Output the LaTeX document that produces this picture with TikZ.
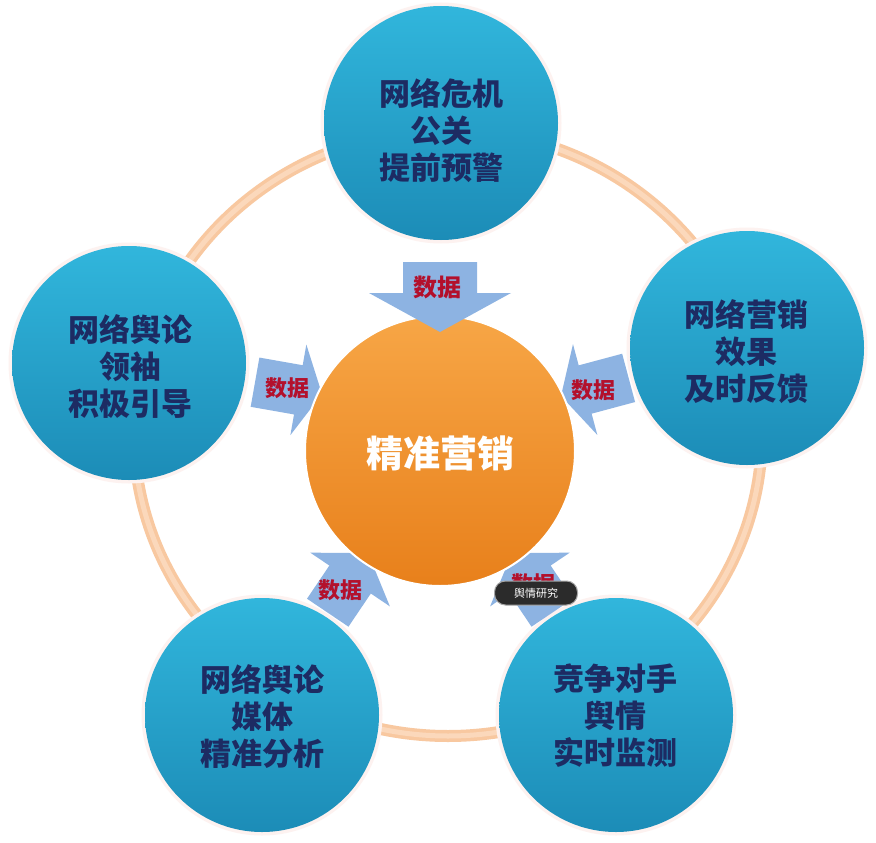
\documentclass[tikz,border=0pt]{standalone}
\usepackage{fontspec}
\newfontfamily\cjk{Noto Sans CJK SC}
\definecolor{blueTop}{HTML}{31B6DC}
\definecolor{blueBot}{HTML}{1C8CB7}
\definecolor{navy}{HTML}{1D2B63}
\definecolor{orangeTop}{HTML}{F7A646}
\definecolor{orangeBot}{HTML}{E8801B}
\definecolor{ringC}{HTML}{F8C8A0}
\definecolor{ringL}{HTML}{FBD8BB}
\definecolor{arrowC}{HTML}{8DB3E2}
\definecolor{dataRed}{HTML}{B3102C}
\definecolor{haloC}{HTML}{FDF2F0}
\definecolor{wmC}{HTML}{2B2B2B}
\newcommand\dataarrow[7]{%
  \fill[arrowC, shift={(#1,#2)}, rotate=#3]
    (0,0) -- (-#5,#6) -- (-#5,#7) -- (-#4,#7) -- (-#4,-#7) -- (-#5,-#7) -- (-#5,-#6) -- cycle;}
\begin{document}
\begin{tikzpicture}[x=1pt,y=-1pt,
  halo/.style={circle, inner sep=0, minimum size=241, fill=haloC},
  bluecirc/.style={circle, inner sep=0, minimum size=234, top color=blueTop, bottom color=blueBot},
  bluetext/.style={align=center, text=navy, font=\cjk\bfseries\fontsize{31}{37}\selectfont},
  datalbl/.style={text=dataRed, inner sep=0, font=\cjk\bfseries\fontsize{22}{22}\selectfont}]
\useasboundingbox (0,0) rectangle (876,843);
\fill[white] (0,0) rectangle (876,843);
% ring
\draw[line width=12, color=ringC] (448,433) ellipse [x radius=314, y radius=303];
\draw[line width=5, color=ringL] (448,433) ellipse [x radius=314, y radius=303];
% halos
\node[halo] (h1) at (441,123) {};
\node[halo] (h2) at (129,363) {};
\node[halo] (h3) at (747,348) {};
\node[halo] (h4) at (262,715) {};
\node[halo] (h5) at (616,715) {};
% blue circles
\node[bluecirc] (c1) at (441,123) {};
\node[bluecirc] (c2) at (129,363) {};
\node[bluecirc] (c3) at (747,348) {};
\node[bluecirc] (c4) at (262,715) {};
\node[bluecirc] (c5) at (616,715) {};
% lower arrows
\dataarrow{322}{394}{-10}{68}{24}{46}{25}
\dataarrow{561}{396}{-165}{70}{25}{47}{25}
\dataarrow{368}{553}{56}{72}{32}{48}{25}
\dataarrow{512}{553}{124}{72}{32}{48}{25}
% center
\node[circle, inner sep=0, minimum size=270, top color=orangeTop, bottom color=orangeBot,
      draw=white, line width=2] (ctr) at (440,451) {};
% top arrow
\dataarrow{440}{332}{-90}{70}{39}{71}{37}
% labels
\node[text=white, font=\cjk\bfseries\fontsize{37}{37}\selectfont] (ct) at (440,453) {精准营销};
\node[datalbl, font=\cjk\bfseries\fontsize{24}{24}\selectfont] (d1) at (437,287) {数据};
\node[datalbl] (d2) at (287,388) {数据};
\node[datalbl] (d3) at (593,390) {数据};
\node[datalbl] (d4) at (340,590) {数据};
\node[datalbl] (d5) at (533,584) {数据};
\node[fill=wmC, draw=gray!70, line width=1, rounded corners=11, minimum width=83, minimum height=24,
      inner sep=0, text=white, font=\cjk\fontsize{11}{11}\selectfont] (wm) at (536,593) {舆情研究};
% circle texts
\node[bluetext] (t1) at (441,131) {网络危机\\公关\\提前预警};
\node[bluetext] (t2) at (130,367) {网络舆论\\领袖\\积极引导};
\node[bluetext] (t3) at (746,352) {网络营销\\效果\\及时反馈};
\node[bluetext] (t4) at (262,717) {网络舆论\\媒体\\精准分析};
\node[bluetext] (t5) at (615,716) {竞争对手\\舆情\\实时监测};
\end{tikzpicture}
\end{document}
